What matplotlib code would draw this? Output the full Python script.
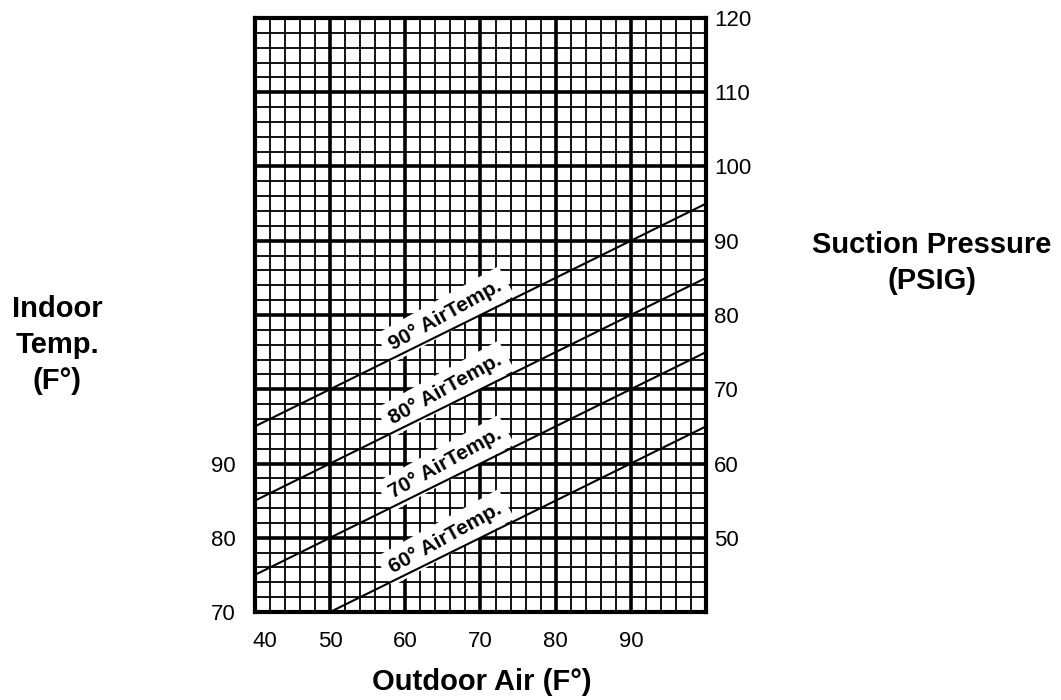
import matplotlib.pyplot as plt
import matplotlib.transforms as mtransforms
import numpy as np

plt.rcParams['font.family'] = ['Liberation Sans', 'DejaVu Sans']

# outdoor air temperature (x) and suction pressure (PSIG) at the ends of each line
outdoor_air = [40, 100]
air_temp_labels = ['90° AirTemp.', '80° AirTemp.', '70° AirTemp.', '60° AirTemp.']
suction_90 = [65, 95]
suction_80 = [55, 85]
suction_70 = [45, 75]
suction_60 = [35, 65]
label_pos = [(65.3, 80.0), (65.3, 70.0), (65.3, 60.0), (65.3, 50.0)]

x_ticks = [40, 50, 60, 70, 80, 90]
right_ticks = [50, 60, 70, 80, 90, 100, 110, 120]
indoor_ticks = [70, 80, 90]

fig = plt.figure(figsize=(10.61, 7), dpi=100)
ax = fig.add_axes([0.2403, 0.1257, 0.4251, 0.8486])
ax.set_xlim(40, 100)
ax.set_ylim(40, 120)

# graph-paper grid
ax.set_xticks(x_ticks)
ax.set_xticks(np.arange(40, 101, 2), minor=True)
ax.set_yticks(np.arange(40, 121, 10))
ax.set_yticks(np.arange(40, 121, 2), minor=True)
ax.grid(True, which='minor', color='black', linewidth=1.3)
ax.grid(True, which='major', color='black', linewidth=2.6)
ax.set_axisbelow(True)
for s in ax.spines.values():
    s.set_linewidth(3)
ax.tick_params(which='both', length=0)
ax.tick_params(axis='x', labelsize=16, pad=14)
ax.set_yticklabels([])
# first x label sits a bit right of its grid line
lbl = ax.get_xticklabels()[0]
lbl.set_transform(lbl.get_transform() + mtransforms.ScaledTranslation(0.1, 0, fig.dpi_scale_trans))

# suction pressure on the right
ax_r = ax.twinx()
ax_r.set_ylim(40, 120)
ax_r.set_yticks(right_ticks)
ax_r.tick_params(length=0, labelsize=16, pad=6)
for s in ax_r.spines.values():
    s.set_visible(False)

# indoor temperature on the left
ax_l = ax.secondary_yaxis('left', functions=(lambda v: v + 30, lambda v: v - 30))
ax_l.set_yticks(indoor_ticks)
ax_l.tick_params(length=0, labelsize=16, pad=14)
ax_l.spines['left'].set_visible(False)

for ys in [suction_90, suction_80, suction_70, suction_60]:
    ax.plot(outdoor_air, ys, color='black', linewidth=1.5, zorder=4)

for lab, (lx, ly) in zip(air_temp_labels, label_pos):
    ax.text(lx, ly, lab, rotation=29, rotation_mode='anchor',
            ha='center', va='center', fontsize=15, fontweight='bold', zorder=3,
            bbox=dict(boxstyle='square,pad=0.35', fc='white', ec='none'))

fig.text(0.454, 0.025, 'Outdoor Air (F°)', ha='center', va='center',
         fontsize=21, fontweight='bold')
fig.text(0.054, 0.507, 'Indoor\nTemp.\n(F°)', ha='center', va='center',
         fontsize=21, fontweight='bold', linespacing=1.38)
fig.text(0.878, 0.624, 'Suction Pressure\n(PSIG)', ha='center', va='center',
         fontsize=21, fontweight='bold', linespacing=1.38)

fig.savefig('out.png', dpi=100)
